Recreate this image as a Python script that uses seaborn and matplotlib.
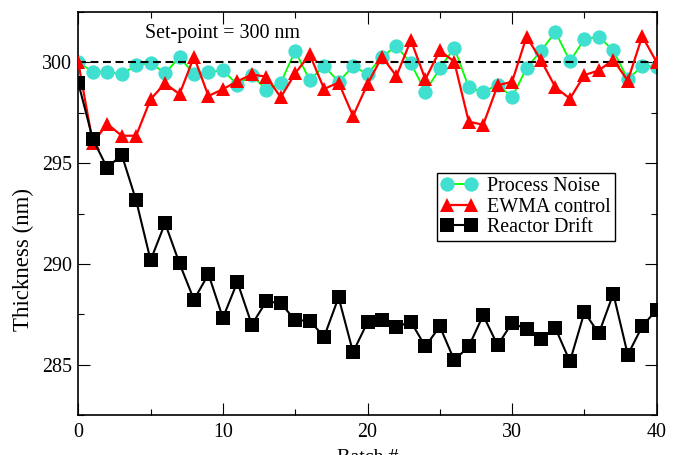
import matplotlib
matplotlib.use("Agg")
import matplotlib.pyplot as plt
import seaborn as sns
from matplotlib.ticker import MultipleLocator

# Film thickness per batch for three run-to-run scenarios
batch = list(range(41))
process_noise = [300.0, 299.54, 299.54, 299.4, 299.87, 299.96, 299.47, 300.25, 299.43, 299.5,
                 299.62, 298.88, 299.37, 298.65, 298.99, 300.57, 299.12, 299.82, 299.04, 299.8,
                 299.43, 300.28, 300.81, 299.95, 298.55, 299.7, 300.73, 298.76, 298.52, 298.9,
                 298.27, 299.72, 300.58, 301.51, 300.06, 301.15, 301.27, 300.59, 299.16, 299.82,
                 299.78]
ewma_control = [300.0, 296.0, 296.95, 296.36, 296.36, 298.17, 298.96, 298.42, 300.28, 298.33,
                298.67, 299.06, 299.4, 299.29, 298.27, 299.45, 300.4, 298.68, 299.0, 297.34,
                298.92, 300.28, 299.32, 301.1, 299.16, 300.59, 300.03, 297.06, 296.9, 298.86,
                299.04, 301.28, 300.1, 298.76, 298.2, 299.37, 299.6, 300.13, 299.09, 301.3,
                300.0]
reactor_drift = [298.98, 296.2, 294.76, 295.42, 293.15, 290.18, 292.02, 290.02, 288.22, 289.49,
                 287.32, 289.1, 286.98, 288.14, 288.05, 287.2, 287.18, 286.38, 288.34, 285.62,
                 287.1, 287.2, 286.87, 287.13, 285.9, 286.9, 285.22, 285.9, 287.45, 285.96,
                 287.08, 286.75, 286.26, 286.8, 285.16, 287.6, 286.55, 288.52, 285.49, 286.9,
                 287.73]
setpoint = 300
series_labels = ["Process Noise", "EWMA control", "Reactor Drift"]

sns.set_theme(style="ticks")
plt.rcParams["font.family"] = ["Liberation Serif", "DejaVu Serif"]
plt.rcParams.update({
    "axes.edgecolor": "black",
    "xtick.color": "black",
    "ytick.color": "black",
    "text.color": "black",
    "axes.labelcolor": "black",
})

FS = 14.4

fig = plt.figure(figsize=(6.77, 4.55), dpi=100)
ax = fig.add_axes([0.11566, 0.08791, 0.85436, 0.88571])

turquoise = "#40e0d0"

sns.lineplot(x=batch, y=process_noise, ax=ax, color="#00ff00", lw=1.3,
             marker="o", ms=10.3, mfc=turquoise, mec=turquoise, mew=0,
             label=series_labels[0], zorder=2)
sns.lineplot(x=batch, y=ewma_control, ax=ax, color="#ff0000", lw=1.6,
             marker="^", ms=10.3, mfc="#ff0000", mec="#ff0000", mew=0,
             label=series_labels[1], zorder=3)
sns.lineplot(x=batch, y=reactor_drift, ax=ax, color="black", lw=1.5,
             marker="s", ms=9.5, mfc="black", mec="black", mew=0,
             label=series_labels[2], zorder=4)

# Set-point reference line
ax.axhline(setpoint, color="black", lw=1.5, dashes=(3.8, 2.2), zorder=2.5)
ax.text(10, 301.43, f"Set-point = {setpoint} nm", ha="center", va="center", fontsize=FS)

ax.set_xlim(0, 40)
ax.set_ylim(282.5, 302.5)
ax.xaxis.set_major_locator(MultipleLocator(10))
ax.xaxis.set_minor_locator(MultipleLocator(5))
ax.yaxis.set_major_locator(MultipleLocator(5))
ax.yaxis.set_minor_locator(MultipleLocator(2.5))
ax.tick_params(which="both", direction="in", top=True, right=True, width=0.8,
               labelsize=FS)
ax.tick_params(which="major", length=8.4)
ax.tick_params(which="minor", length=4.2)
ax.tick_params(axis="y", pad=4.7)
ax.tick_params(axis="x", pad=5.8)
for sp in ax.spines.values():
    sp.set_linewidth(1.2)
    sp.set_color("black")

ax.set_xlabel("Batch #", fontsize=FS)
ax.set_ylabel("Thickness (nm)", fontsize=16.5)
ax.xaxis.set_label_coords(0.5, -0.084)
ax.yaxis.set_label_coords(-0.077, 0.385)

leg = ax.legend(loc="upper left", bbox_to_anchor=(0.6196, 0.5998), numpoints=2,
                fontsize=FS, frameon=True, fancybox=False, edgecolor="black",
                framealpha=1, borderpad=0.2, labelspacing=0.08, handlelength=1.81,
                handletextpad=0.5, borderaxespad=0)
leg.get_frame().set_linewidth(1.0)

fig.savefig("out.png", dpi=100)
